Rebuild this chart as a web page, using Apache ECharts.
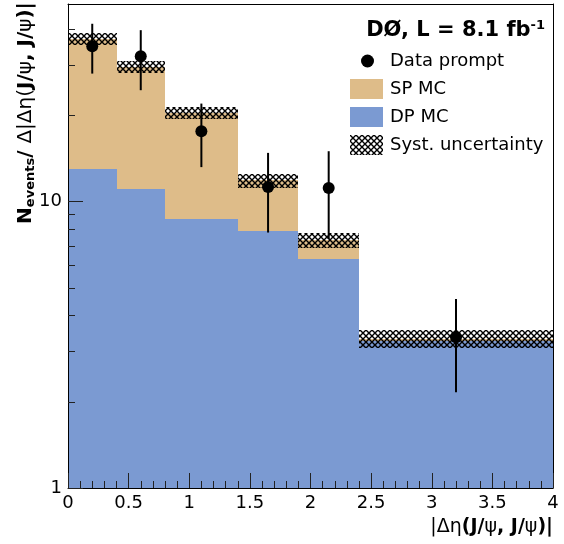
<!DOCTYPE html>
<html>
<head>
<meta charset="utf-8">
<script src="https://cdn.jsdelivr.net/npm/echarts@6/dist/echarts.min.js"></script>
<style>
html,body{margin:0;padding:0;background:#fff;}
#chart{width:564px;height:544px;}
</style>
</head>
<body>
<div id="chart"></div>
<script>
// ---- data ----
const binEdges   = [0, 0.4, 0.8, 1.4, 1.9, 2.4, 4.0];
const dpMC       = [13.0, 11.1, 8.72, 7.88, 6.31, 3.25];     // DP MC (blue)
const totalMC    = [36.9, 29.5, 20.4, 11.86, 7.32, 3.31];    // SP+DP stacked top
const systUp     = [38.9, 30.9, 21.4, 12.5, 7.77, 3.57];     // band upper edge
const systDown   = [35.1, 28.2, 19.5, 11.2, 6.89, 3.08];     // band lower edge
const dataX      = [0.2, 0.6, 1.1, 1.65, 2.15, 3.2];
const dataY      = [34.9, 32.2, 17.6, 11.25, 11.16, 3.36];
const dataHi     = [41.8, 39.7, 22.0, 14.8, 15.0, 4.57];
const dataLo     = [28.0, 24.5, 13.2, 7.8, 7.4, 2.16];
const xTicks     = [0, 4, 0.5];            // min, max, interval
const yMajorTicks = [1, 10];
const yMinorTicks = [2, 3, 4, 5, 6, 7, 8, 9, 20, 30, 40];
const yMin = 1, yMax = 49;

const FONT = 'DejaVu Sans';
const TAN = '#DEBC89';
const BLUE = '#7B9AD2';

function makeHatch() {
  const c = document.createElement('canvas');
  c.width = 6; c.height = 6;
  const g = c.getContext('2d');
  g.strokeStyle = '#000';
  g.lineWidth = 1.4;
  g.beginPath();
  g.moveTo(-1, -1); g.lineTo(7, 7);
  g.moveTo(7, -1); g.lineTo(-1, 7);
  g.stroke();
  return c;
}
const hatch = { image: makeHatch(), repeat: 'repeat' };

const dpData = [], spData = [], systData = [], ptData = [];
for (let i = 0; i < dpMC.length; i++) {
  dpData.push([binEdges[i], binEdges[i + 1], yMin, dpMC[i]]);
  spData.push([binEdges[i], binEdges[i + 1], dpMC[i], totalMC[i]]);
  systData.push([binEdges[i], binEdges[i + 1], systDown[i], systUp[i]]);
  ptData.push([dataX[i], dataY[i], dataLo[i], dataHi[i]]);
}

function rectRenderer(fill) {
  return function (params, api) {
    const a = api.coord([api.value(0), api.value(3)]);
    const b = api.coord([api.value(1), api.value(2)]);
    const x0 = Math.round(a[0]), x1 = Math.round(b[0]);
    const y0 = Math.round(a[1]), y1 = Math.round(b[1]);
    return {
      type: 'rect',
      shape: { x: x0, y: y0, width: x1 - x0, height: y1 - y0 },
      style: { fill: fill }
    };
  };
}

function pointRenderer(params, api) {
  const c = api.coord([api.value(0), api.value(1)]);
  const lo = api.coord([api.value(0), api.value(2)]);
  const hi = api.coord([api.value(0), api.value(3)]);
  return {
    type: 'group',
    children: [
      { type: 'line', shape: { x1: c[0], y1: lo[1], x2: c[0], y2: hi[1] },
        style: { stroke: '#000', lineWidth: 2 } },
      { type: 'circle', shape: { cx: c[0], cy: c[1], r: 6 },
        style: { fill: '#000' } }
    ]
  };
}

const chart = echarts.init(document.getElementById('chart'), null, { renderer: 'canvas' });

const option = {
  backgroundColor: '#fff',
  animation: false,
  textStyle: { fontFamily: FONT },
  title: {
    text: '{b|DØ, L = 8.1 fb}{sup|-1}',
    right: 19,
    top: 19,
    padding: 0,
    textStyle: {
      rich: {
        b: { fontFamily: FONT, fontWeight: 'bold', fontSize: 21, color: '#000' },
        sup: { fontFamily: FONT, fontWeight: 'bold', fontSize: 13, color: '#000', padding: [0, 0, 10, 0] }
      }
    }
  },
  legend: [
    {
      data: [{ name: 'Data prompt', icon: 'circle', itemStyle: { color: '#000' } }],
      orient: 'vertical',
      left: 361, top: 52,
      padding: 0,
      itemWidth: 13, itemHeight: 13,
      selectedMode: false,
      textStyle: { fontFamily: FONT, fontSize: 18, color: '#000', padding: [0, 0, 0, 11] }
    },
    {
      data: [
        { name: 'SP MC', icon: 'rect', itemStyle: { color: TAN } },
        { name: 'DP MC', icon: 'rect', itemStyle: { color: BLUE } },
        { name: 'Syst. uncertainty', icon: 'rect', itemStyle: { color: hatch } }
      ],
      orient: 'vertical',
      left: 350, top: 79,
      padding: 0,
      itemWidth: 33, itemHeight: 20, itemGap: 8,
      selectedMode: false,
      textStyle: { fontFamily: FONT, fontSize: 18, color: '#000', padding: [0, 0, 0, 2] }
    }
  ],
  grid: { left: 68, right: 11, top: 4, bottom: 56, containLabel: false },
  xAxis: [
    {
      type: 'value', position: 'bottom', min: xTicks[0], max: xTicks[1], interval: xTicks[2],
      z: 10,
      axisLine: { show: true, onZero: false, lineStyle: { color: '#000', width: 1 } },
      axisTick: { show: true, inside: true, length: 15, lineStyle: { color: '#222', width: 1 } },
      minorTick: { show: true, splitNumber: 5, length: 7, lineStyle: { color: '#222', width: 1 } },
      splitLine: { show: false },
      axisLabel: { fontFamily: FONT, fontSize: 18, color: '#000', margin: 6 }
    },
    {
      type: 'value', position: 'top', min: xTicks[0], max: xTicks[1],
      z: 10,
      axisLine: { show: true, onZero: false, lineStyle: { color: '#000', width: 1 } },
      axisTick: { show: false }, axisLabel: { show: false }, splitLine: { show: false }
    }
  ],
  yAxis: [
    {
      type: 'log', logBase: 10, min: yMin, max: yMax, position: 'left',
      z: 10,
      axisLine: { show: true, onZero: false, lineStyle: { color: '#000', width: 1 } },
      axisTick: { show: true, inside: true, length: 15, customValues: yMajorTicks, lineStyle: { color: '#222', width: 1 } },
      axisLabel: { show: true, customValues: yMajorTicks, fontFamily: FONT, fontSize: 18, color: '#000', margin: 6 },
      splitLine: { show: false }
    },
    {
      type: 'log', logBase: 10, min: yMin, max: yMax, position: 'left',
      z: 10,
      axisLine: { show: false },
      axisTick: { show: true, inside: true, length: 7, customValues: yMinorTicks, lineStyle: { color: '#222', width: 1 } },
      axisLabel: { show: false },
      splitLine: { show: false }
    },
    {
      type: 'log', logBase: 10, min: yMin, max: yMax, position: 'right',
      z: 10,
      axisLine: { show: true, onZero: false, lineStyle: { color: '#000', width: 1 } },
      axisTick: { show: false }, axisLabel: { show: false }, splitLine: { show: false }
    }
  ],
  series: [
    {
      name: 'DP MC', type: 'custom', xAxisIndex: 0, yAxisIndex: 0,
      itemStyle: { color: BLUE },
      encode: { x: [0, 1], y: [2, 3] },
      renderItem: rectRenderer(BLUE),
      data: dpData, z: 2
    },
    {
      name: 'SP MC', type: 'custom', xAxisIndex: 0, yAxisIndex: 0,
      itemStyle: { color: TAN },
      encode: { x: [0, 1], y: [2, 3] },
      renderItem: rectRenderer(TAN),
      data: spData, z: 2
    },
    {
      name: 'Syst. uncertainty', type: 'custom', xAxisIndex: 0, yAxisIndex: 0,
      itemStyle: { color: hatch },
      encode: { x: [0, 1], y: [2, 3] },
      renderItem: rectRenderer(hatch),
      data: systData, z: 3
    },
    {
      name: 'Data prompt', type: 'custom', xAxisIndex: 0, yAxisIndex: 0,
      itemStyle: { color: '#000' },
      encode: { x: 0, y: [1, 2, 3] },
      renderItem: pointRenderer,
      data: ptData, z: 4
    }
  ],
  graphic: [
    {
      type: 'text',
      x: 26, y: 113,
      rotation: Math.PI / 2,
      style: {
        text: '{b|N}{s|events}{b|/ }{r|Δ|Δη(}{b|J/}{r|ψ}{b|, J/}{r|ψ}{b|)|}',
        align: 'center', verticalAlign: 'middle',
        rich: {
          b: { fontFamily: FONT, fontWeight: 'bold', fontSize: 20, fill: '#000' },
          r: { fontFamily: FONT, fontSize: 20, fill: '#000' },
          s: { fontFamily: FONT, fontWeight: 'bold', fontSize: 13, fill: '#000', padding: [9, 0, 0, 0] }
        }
      }
    },
    {
      type: 'text',
      right: 11, top: 518,
      style: {
        text: '{r||Δη}{b|(J/}{r|ψ}{b|, J/}{r|ψ}{b|)|}',
        rich: {
          b: { fontFamily: FONT, fontWeight: 'bold', fontSize: 19, fill: '#000' },
          r: { fontFamily: FONT, fontSize: 19, fill: '#000' }
        }
      }
    }
  ]
};

chart.setOption(option);
</script>
</body>
</html>
